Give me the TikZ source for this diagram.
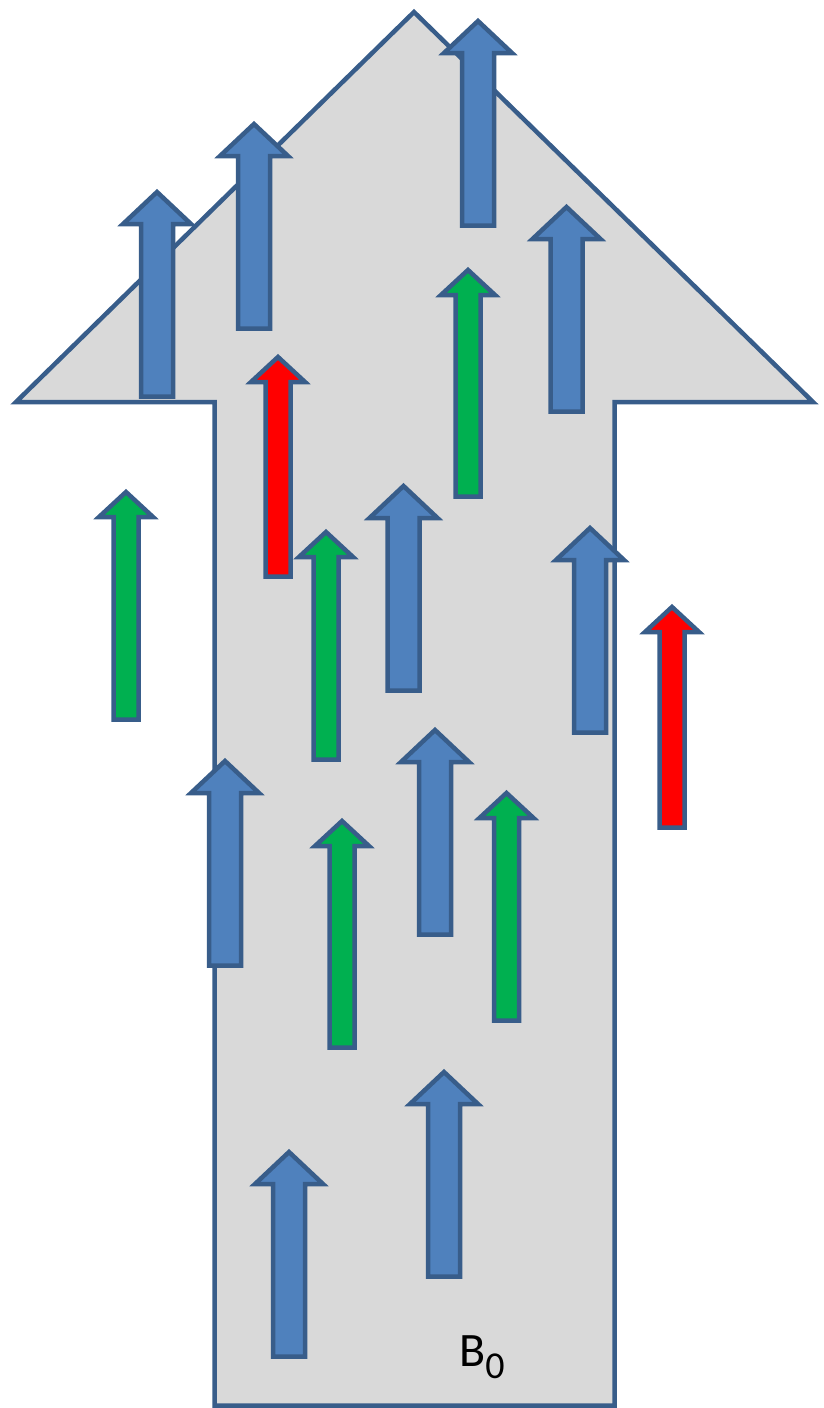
\documentclass[tikz,border=0pt]{standalone}
\usepackage{fontspec}
\setmainfont{Carlito}
\definecolor{outline}{HTML}{385D8A}
\definecolor{bluefill}{HTML}{4F81BD}
\definecolor{greenfill}{HTML}{00B050}
\definecolor{redfill}{HTML}{FF0000}
\definecolor{panel}{HTML}{D9D9D9}

% Upward block arrow: centre x, tip y, bottom y, head half-width,
% shaft half-width, head height, fill colour (outer edges given for tip/bottom)
\newcommand{\uparrowshape}[7]{%
  \draw[arrowline, fill=#7]
    (#1-#5,#3-2.5) -- (#1-#5,#2+4+#6) -- (#1-#4,#2+4+#6) -- (#1,#2+4)
    -- (#1+#4,#2+4+#6) -- (#1+#5,#2+4+#6) -- (#1+#5,#3-2.5) -- cycle;}
\newcommand{\wideup}[3]{\uparrowshape{#1}{#2}{#3}{34}{16}{32}{bluefill}}
\newcommand{\slimup}[4]{\uparrowshape{#1}{#2}{#3}{27}{12.5}{25}{#4}}

\tikzset{
  arrowline/.style={draw=outline, line width=4.5pt, line join=miter},
  bigarrow/.style={draw=outline, fill=panel, line width=4.5pt, line join=miter},
  fieldlabel/.style={anchor=base west, inner sep=0pt, text=black}
}

\begin{document}
\begin{tikzpicture}[x=1pt, y=-1pt]
\useasboundingbox (0,0) rectangle (823,1408);

% large background arrow
\draw[bigarrow] (414,12) -- (813,402) -- (614.5,402) -- (614.5,1405.5)
  -- (214.5,1405.5) -- (214.5,402) -- (16,402) -- cycle;

% small arrows
\wideup{157}{188}{399}
\wideup{254}{120}{331}
\wideup{478}{17}{228}
\wideup{566.5}{203}{414}
\slimup{278}{353}{579}{redfill}
\slimup{468}{266}{499}{greenfill}
\slimup{126}{488}{722}{greenfill}
\slimup{326}{528}{762}{greenfill}
\wideup{403.5}{482}{693}
\wideup{590}{524}{735}
\slimup{672}{603}{830}{redfill}
\wideup{225}{757}{968}
\wideup{435}{726}{937}
\slimup{342}{817}{1050}{greenfill}
\slimup{506.5}{789}{1023}{greenfill}
\wideup{444}{1068}{1279}
\wideup{289}{1148}{1359}

% field label
\node[fieldlabel] (bzero) at (459,1366)
  {\fontsize{48}{48}\selectfont B\raisebox{-12pt}{\fontsize{38}{38}\selectfont 0}};
\end{tikzpicture}
\end{document}
